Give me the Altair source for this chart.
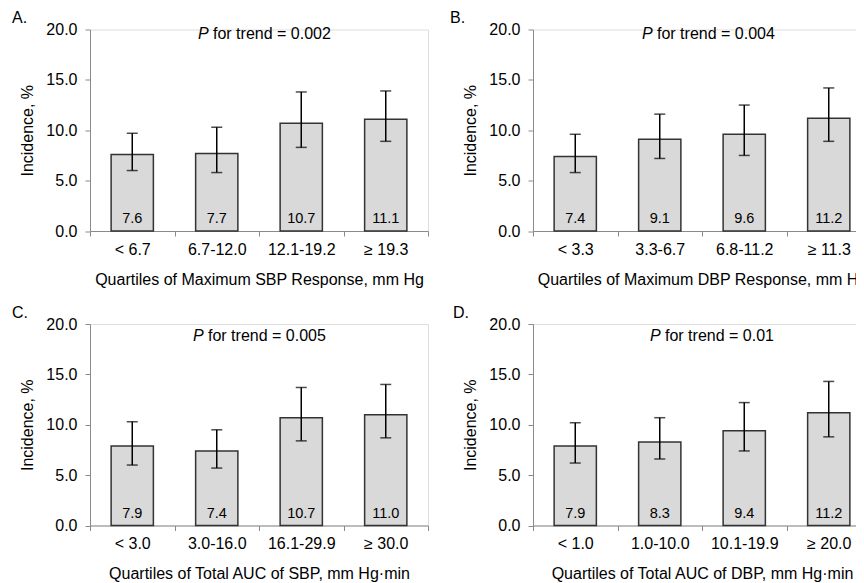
import altair as alt
import pandas as pd

FONT = "Liberation Sans"
GRAY = "#8a8a8a"

letters = ["A.", "B.", "C.", "D."]

cats_A = ["< 6.7", "6.7-12.0", "12.1-19.2", "≥ 19.3"]
vals_A = [7.6, 7.7, 10.7, 11.1]
lo_A = [6.0, 5.8, 8.3, 8.9]
hi_A = [9.7, 10.3, 13.8, 13.9]

cats_B = ["< 3.3", "3.3-6.7", "6.8-11.2", "≥ 11.3"]
vals_B = [7.4, 9.1, 9.6, 11.2]
lo_B = [5.8, 7.2, 7.5, 8.9]
hi_B = [9.6, 11.6, 12.5, 14.2]

cats_C = ["< 3.0", "3.0-16.0", "16.1-29.9", "≥ 30.0"]
vals_C = [7.9, 7.4, 10.7, 11.0]
lo_C = [6.0, 5.7, 8.4, 8.7]
hi_C = [10.3, 9.5, 13.7, 14.0]

cats_D = ["< 1.0", "1.0-10.0", "10.1-19.9", "≥ 20.0"]
vals_D = [7.9, 8.3, 9.4, 11.2]
lo_D = [6.2, 6.6, 7.4, 8.8]
hi_D = [10.2, 10.7, 12.2, 14.3]

p_values = ["0.002", "0.004", "0.005", "0.01"]

x_titles = [
    "Quartiles of Maximum SBP Response, mm Hg",
    "Quartiles of Maximum DBP Response, mm Hg",
    "Quartiles of Total AUC of SBP, mm Hg·min",
    "Quartiles of Total AUC of DBP, mm Hg·min",
]
y_title = "Incidence, %"
y_ticks = [0, 5, 10, 15, 20]

# layout (pixel offsets of annotation text within each panel)
p_x = [108, 109, 103, 117]
p_y = [9, 9, 17, 17]
letter_x = [-78, -83, -78, -80]

W, H = 338, 201.5


def panel(i, cats, vals, lo, hi):
    df = pd.DataFrame({"cat": cats, "val": vals, "lo": lo, "hi": hi})
    xs = alt.Scale(paddingInner=0, paddingOuter=0)
    x_axis = alt.X(
        "cat:N",
        sort=cats,
        scale=xs,
        title=x_titles[i],
        axis=alt.Axis(
            labelAngle=0,
            tickBand="extent",
            domainColor=GRAY,
            tickColor=GRAY,
            tickSize=5,
            labelFontSize=16,
            titleFontSize=16,
            labelPadding=5,
            titlePadding=14,
            titleFontWeight="normal",
            labelColor="black",
            titleColor="black",
        ),
    )
    x_plain = alt.X("cat:N", sort=cats, scale=xs)
    y_enc = alt.Y(
        "val:Q",
        scale=alt.Scale(domain=[0, 20], nice=False),
        title=y_title,
        axis=alt.Axis(
            values=y_ticks,
            format=".1f",
            grid=False,
            domainColor=GRAY,
            tickColor=GRAY,
            tickSize=5,
            labelFontSize=16,
            titleFontSize=16,
            labelPadding=8,
            titlePadding=10,
            titleFontWeight="normal",
            labelColor="black",
            titleColor="black",
        ),
    )
    base = alt.Chart(df)
    bars = base.mark_bar(
        width=alt.RelativeBandSize(0.5), fill="#d9d9d9", stroke="#333333", strokeWidth=1.5
    ).encode(x=x_axis, y=y_enc)
    rules = base.mark_rule(color="black", strokeWidth=1.5).encode(
        x=x_plain, y="lo:Q", y2="hi:Q"
    )
    cap_lo = base.mark_tick(color="black", size=11, thickness=1.5).encode(x=x_plain, y="lo:Q")
    cap_hi = base.mark_tick(color="black", size=11, thickness=1.5).encode(x=x_plain, y="hi:Q")
    vlabels = base.mark_text(
        baseline="alphabetic", dy=-8, fontSize=14.5, color="black"
    ).encode(x=x_plain, y=alt.datum(0), text=alt.Text("val:Q", format=".1f"))

    ann = pd.DataFrame({"p": ["P"], "rest": ["for trend = " + p_values[i]], "letter": [letters[i]]})
    ac = alt.Chart(ann)
    p_it = ac.mark_text(
        align="left", baseline="alphabetic", fontSize=16, fontStyle="italic", color="black"
    ).encode(text="p:N", x=alt.value(p_x[i]), y=alt.value(p_y[i]))
    p_rest = ac.mark_text(
        align="left", baseline="alphabetic", fontSize=16, color="black"
    ).encode(text="rest:N", x=alt.value(p_x[i] + 15), y=alt.value(p_y[i]))
    let = ac.mark_text(
        align="left", baseline="top", fontSize=16, color="black"
    ).encode(text="letter:N", x=alt.value(letter_x[i]), y=alt.value(-19.5))

    return alt.layer(bars, rules, cap_lo, cap_hi, vlabels, p_it, p_rest, let).properties(
        width=W, height=H
    )


A = panel(0, cats_A, vals_A, lo_A, hi_A)
B = panel(1, cats_B, vals_B, lo_B, hi_B)
C = panel(2, cats_C, vals_C, lo_C, hi_C)
D = panel(3, cats_D, vals_D, lo_D, hi_D)

chart = (
    alt.concat(A, B, C, D, columns=2, spacing={"row": 16.5, "column": 20})
    .resolve_scale(x="independent")
    .configure_view(stroke=None)
    .configure(font=FONT)
    .properties(
        autosize=alt.AutoSizeParams(type="none"),
        padding={"left": 82, "top": 21.5, "right": 766, "bottom": 553.5},
    )
)

chart.save("out.html", embed_options={"renderer": "svg", "actions": False})
